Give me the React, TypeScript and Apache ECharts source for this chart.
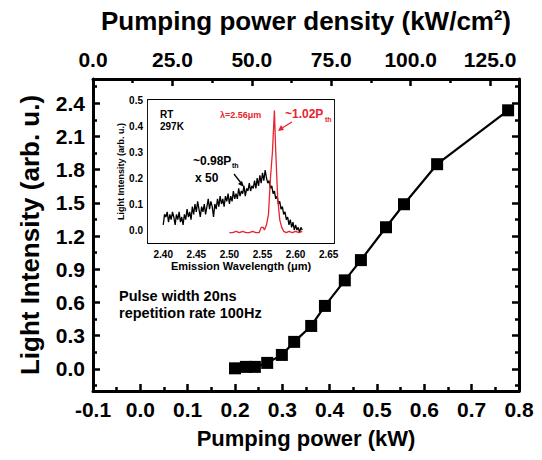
import React, { useEffect, useRef } from 'react';
import * as echarts from 'echarts';

// Main data: pumping power (kW) vs light intensity (arb. u.)
const powerKW = [0.200, 0.223, 0.242, 0.268, 0.299, 0.325, 0.361, 0.390, 0.432, 0.466, 0.519, 0.557, 0.627, 0.777];
const intensity = [0.005, 0.018, 0.018, 0.054, 0.126, 0.244, 0.388, 0.569, 0.80, 0.983, 1.28, 1.488, 1.85, 2.337];

const mainYTicks = [0, 0.3, 0.6, 0.9, 1.2, 1.5, 1.8, 2.1, 2.4];
const mainYMinor = [-0.15, 0.15, 0.45, 0.75, 1.05, 1.35, 1.65, 1.95, 2.25, 2.55];

// Inset: spectra
const blackStart = 2.4;
const blackStep = 0.002;
const blackSpectrum = [
  0.02, 0.06, 0.05, 0.07, 0.03, 0.06, 0.04, 0.07, 0.05, 0.02,
  0.06, 0.04, 0.07, 0.03, 0.05, 0.02, 0.06, 0.04, 0.08, 0.05,
  0.07, 0.04, 0.09, 0.06, 0.10, 0.07, 0.11, 0.08, 0.05, 0.09,
  0.07, 0.10, 0.06, 0.09, 0.12, 0.08, 0.11, 0.09, 0.05, 0.10,
  0.08, 0.12, 0.09, 0.13, 0.10, 0.12, 0.09, 0.13, 0.11, 0.14,
  0.10, 0.13, 0.11, 0.15, 0.12, 0.14, 0.12, 0.16, 0.13, 0.15,
  0.14, 0.17, 0.13, 0.16, 0.15, 0.18, 0.15, 0.17, 0.16, 0.19,
  0.16, 0.20, 0.17, 0.21, 0.18, 0.22, 0.19, 0.23, 0.20, 0.18,
  0.19, 0.16, 0.17, 0.14, 0.15, 0.12, 0.13, 0.10, 0.11, 0.08,
  0.09, 0.06, 0.07, 0.04, 0.05, 0.02, 0.04, 0.01, 0.03, 0.00,
  0.02, 0.00, 0.01, -0.01, 0.01, 0.00,
];
const redWavelength = [2.500, 2.505, 2.510, 2.515, 2.520, 2.525, 2.530, 2.535, 2.540, 2.545, 2.548, 2.551, 2.553, 2.556, 2.559, 2.562, 2.565, 2.568, 2.570, 2.573, 2.576, 2.579, 2.582, 2.586, 2.590, 2.595, 2.600, 2.605, 2.610];
const redIntensity = [-0.01, -0.01, -0.005, -0.01, -0.005, -0.01, -0.01, -0.005, -0.01, -0.01, 0.01, 0.01, 0.0, 0.02, 0.06, 0.20, 0.30, 0.46, 0.30, 0.12, 0.04, 0.01, -0.005, -0.01, -0.005, -0.01, -0.005, -0.01, -0.005];

const insetXTicks = [2.40, 2.45, 2.50, 2.55, 2.60, 2.65];
const insetXMinor = [2.425, 2.475, 2.525, 2.575, 2.625];
const insetYTicks = [0, 0.1, 0.2, 0.3, 0.4, 0.5];
const insetYMinor = [0.05, 0.15, 0.25, 0.35, 0.45];

const FONT = 'Liberation Sans, Arial, sans-serif';
const RED = '#e8242c';

function tickAxis(opts: any) {
  const { gridIndex, position, min, max, values, len, labels, fontSize, lineW, margin } = opts;
  return {
    type: 'value',
    gridIndex,
    position,
    min,
    max,
    splitLine: { show: false },
    axisLine: { show: lineW > 0, onZero: false, lineStyle: { color: '#000', width: lineW } },
    axisTick: { show: true, inside: true, length: len, customValues: values, lineStyle: { color: '#000', width: opts.tickW ?? (lineW > 0 ? lineW : 1.5) } },
    axisLabel: labels
      ? {
          show: true,
          customValues: values,
          color: '#000',
          fontFamily: FONT,
          fontWeight: 'bold',
          fontSize,
          margin,
          formatter: (v: number) => v.toFixed(opts.decimals ?? 1),
        }
      : { show: false },
  };
}

export default function App() {
  const ref = useRef<HTMLDivElement>(null);
  useEffect(() => {
    if (!ref.current) return;
    const chart = echarts.init(ref.current, null, { renderer: 'svg' });
    const blackData = blackSpectrum.map((v, i) => [blackStart + i * blackStep, v]);
    const redData = redWavelength.map((w, i) => [w, redIntensity[i]]);
    const mainData = powerKW.map((p, i) => [p, intensity[i]]);

    const mainGrid = { left: 93, top: 79, width: 426, height: 312 };
    const insetGrid = { left: 148, top: 100, width: 186, height: 143 };

    const option: any = {
      animation: false,
      backgroundColor: '#fff',
      grid: [
        { ...mainGrid, show: false },
        { ...insetGrid, show: true, backgroundColor: '#fff', borderWidth: 0, z: 5 },
      ],
      xAxis: [
        {
          type: 'value',
          gridIndex: 0,
          position: 'bottom',
          min: -0.1,
          max: 0.8,
          interval: 0.1,
          splitLine: { show: false },
          axisLine: { onZero: false, lineStyle: { color: '#000', width: 3 } },
          axisTick: { inside: true, length: 7, lineStyle: { color: '#000', width: 2.5 } },
          minorTick: { show: true, splitNumber: 2, length: 4, lineStyle: { color: '#000', width: 2.5 } },
          axisLabel: {
            color: '#000', fontFamily: FONT, fontWeight: 'bold', fontSize: 21, margin: 8,
            formatter: (v: number) => v.toFixed(1),
          },
          name: 'Pumping power (kW)',
          nameLocation: 'middle',
          nameGap: 36,
          nameTextStyle: { color: '#000', fontFamily: FONT, fontWeight: 'bold', fontSize: 22 },
        },
        {
          type: 'value',
          gridIndex: 0,
          position: 'top',
          min: 0,
          max: 134.1,
          interval: 25,
          splitLine: { show: false },
          axisLine: { onZero: false, lineStyle: { color: '#000', width: 3 } },
          axisTick: { inside: true, length: 7, lineStyle: { color: '#000', width: 2.5 } },
          minorTick: { show: true, splitNumber: 2, length: 4, lineStyle: { color: '#000', width: 2.5 } },
          axisLabel: {
            color: '#000', fontFamily: FONT, fontWeight: 'bold', fontSize: 21, margin: 9,
            formatter: (v: number) => (Math.abs(v % 25) < 1e-6 ? v.toFixed(1) : ''),
          },
          name: 'Pumping power density (kW/cm{sup|2})',
          nameLocation: 'middle',
          nameGap: 45,
          nameTextStyle: {
            color: '#000', fontFamily: FONT, fontWeight: 'bold', fontSize: 26,
            rich: { sup: { fontSize: 15, fontWeight: 'bold', fontFamily: FONT, color: '#000', verticalAlign: 'top', padding: [0, 0, 12, 0] } },
          },
        },
        // inset x-axes
        {
          ...tickAxis({ gridIndex: 1, position: 'bottom', min: 2.377, max: 2.658, values: insetXTicks, len: 4, labels: true, fontSize: 10, lineW: 1.8, margin: 6, decimals: 2 }),
          name: 'Emission Wavelength (\u03bcm)',
          nameLocation: 'middle',
          nameGap: 17,
          nameTextStyle: { color: '#000', fontFamily: FONT, fontWeight: 'bold', fontSize: 11 },
        },
        tickAxis({ gridIndex: 1, position: 'bottom', min: 2.377, max: 2.658, values: insetXMinor, len: 2.5, labels: false, lineW: 0 }),
        tickAxis({ gridIndex: 1, position: 'top', min: 2.377, max: 2.658, values: insetXTicks, len: 4, labels: false, lineW: 1.8 }),
        tickAxis({ gridIndex: 1, position: 'top', min: 2.377, max: 2.658, values: insetXMinor, len: 2.5, labels: false, lineW: 0 }),
      ],
      yAxis: [
        {
          ...tickAxis({ gridIndex: 0, position: 'left', min: -0.2, max: 2.62, values: mainYTicks, len: 7, labels: true, fontSize: 21, lineW: 3, tickW: 2.5, margin: 8 }),
          name: 'Light Intensity (arb. u.)',
          nameLocation: 'middle',
          nameGap: 50,
          nameTextStyle: { color: '#000', fontFamily: FONT, fontWeight: 'bold', fontSize: 26 },
        },
        tickAxis({ gridIndex: 0, position: 'left', min: -0.2, max: 2.62, values: mainYMinor, len: 4, labels: false, lineW: 0, tickW: 2.5 }),
        tickAxis({ gridIndex: 0, position: 'right', min: -0.2, max: 2.62, values: mainYTicks, len: 7, labels: false, lineW: 3, tickW: 2.5 }),
        tickAxis({ gridIndex: 0, position: 'right', min: -0.2, max: 2.62, values: mainYMinor, len: 4, labels: false, lineW: 0, tickW: 2.5 }),
        {
          ...tickAxis({ gridIndex: 1, position: 'left', min: -0.05, max: 0.5, values: insetYTicks, len: 4, labels: true, fontSize: 10, lineW: 1.8, margin: 5 }),
          name: 'Light Intensity (arb. u.)',
          nameLocation: 'middle',
          nameGap: 22,
          nameTextStyle: { color: '#000', fontFamily: FONT, fontWeight: 'bold', fontSize: 9 },
        },
        tickAxis({ gridIndex: 1, position: 'left', min: -0.05, max: 0.5, values: insetYMinor, len: 2.5, labels: false, lineW: 0 }),
        tickAxis({ gridIndex: 1, position: 'right', min: -0.05, max: 0.5, values: insetYTicks, len: 4, labels: false, lineW: 1.8 }),
        tickAxis({ gridIndex: 1, position: 'right', min: -0.05, max: 0.5, values: insetYMinor, len: 2.5, labels: false, lineW: 0 }),
      ],
      series: [
        {
          type: 'line',
          xAxisIndex: 0,
          yAxisIndex: 0,
          data: mainData,
          symbol: 'rect',
          symbolSize: 12,
          itemStyle: { color: '#000' },
          lineStyle: { color: '#000', width: 2.2 },
          z: 3,
        },
        {
          type: 'line',
          xAxisIndex: 2,
          yAxisIndex: 4,
          data: blackData,
          showSymbol: false,
          symbol: 'none',
          lineStyle: { color: '#000', width: 1.3 },
          z: 6,
        },
        {
          type: 'line',
          xAxisIndex: 2,
          yAxisIndex: 4,
          data: redData,
          showSymbol: false,
          symbol: 'none',
          lineStyle: { color: RED, width: 1.3 },
          z: 7,
        },
      ],
      graphic: [
        { type: 'text', left: 160, top: 109, z: 20, style: { text: 'RT', fontFamily: FONT, fontWeight: 'bold', fontSize: 10, fill: '#000' } },
        { type: 'text', left: 160, top: 121, z: 20, style: { text: '297K', fontFamily: FONT, fontWeight: 'bold', fontSize: 10, fill: '#000' } },
        { type: 'text', left: 220, top: 110, z: 20, style: { text: '\u03bb=2.56\u03bcm', fontFamily: FONT, fontWeight: 'bold', fontSize: 9, fill: RED } },
        { type: 'text', left: 285, top: 108, z: 20, style: { text: '~1.02P', fontFamily: FONT, fontWeight: 'bold', fontSize: 12, fill: RED } },
        { type: 'text', left: 325, top: 116, z: 20, style: { text: 'th', fontFamily: FONT, fontWeight: 'bold', fontSize: 7, fill: RED } },
        { type: 'line', z: 20, shape: { x1: 292, y1: 122, x2: 282, y2: 128 }, style: { stroke: RED, lineWidth: 1.3 } },
        { type: 'polygon', z: 20, shape: { points: [[278, 131], [281, 125], [284, 130]] }, style: { fill: RED } },
        { type: 'text', left: 193, top: 155, z: 20, style: { text: '~0.98P', fontFamily: FONT, fontWeight: 'bold', fontSize: 12, fill: '#000' } },
        { type: 'text', left: 232, top: 162, z: 20, style: { text: 'th', fontFamily: FONT, fontWeight: 'bold', fontSize: 7, fill: '#000' } },
        { type: 'text', left: 195, top: 172, z: 20, style: { text: 'x 50', fontFamily: FONT, fontWeight: 'bold', fontSize: 12, fill: '#000' } },
        { type: 'line', z: 20, shape: { x1: 234, y1: 174, x2: 241, y2: 183 }, style: { stroke: '#000', lineWidth: 1.3 } },
        { type: 'polygon', z: 20, shape: { points: [[244, 187], [238, 184], [242, 181]] }, style: { fill: '#000' } },
        { type: 'text', left: 119, top: 288, z: 20, style: { text: 'Pulse width 20ns', fontFamily: FONT, fontWeight: 'bold', fontSize: 14.5, fill: '#000' } },
        { type: 'text', left: 119, top: 305, z: 20, style: { text: 'repetition rate 100Hz', fontFamily: FONT, fontWeight: 'bold', fontSize: 14.5, fill: '#000' } },
      ],
    };
    chart.setOption(option);
    return () => chart.dispose();
  }, []);
  return <div ref={ref} style={{ position: 'fixed', left: 0, top: 0, width: 542, height: 460, background: '#fff' }} />;
}
